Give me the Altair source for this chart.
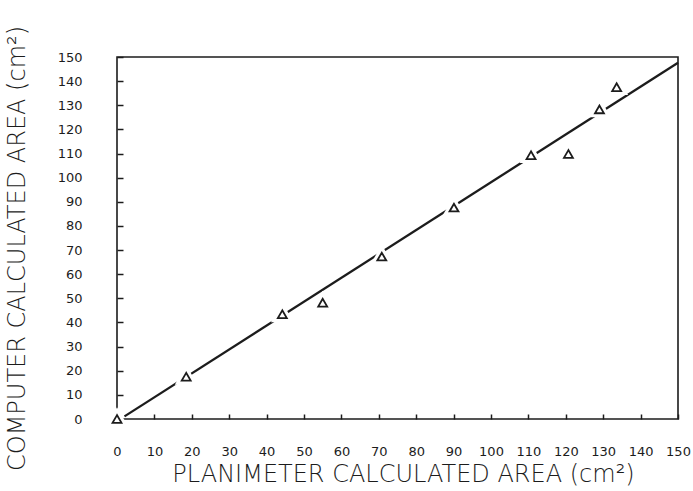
import altair as alt
import pandas as pd

# measured points (planimeter vs computer calculated area, cm^2)
planimeter = [0, 18.5, 44.2, 55.0, 70.8, 90.1, 110.7, 120.7, 129.0, 133.6]
computer = [0, 17.5, 43.4, 48.2, 67.3, 87.6, 109.3, 109.8, 128.3, 137.5]

# fitted line end points
line_x = [2, 150]
line_y = [1.1, 147.6]

tick_values = list(range(0, 151, 10))

pts = pd.DataFrame({"x": planimeter, "y": computer})
fit = pd.DataFrame({"x": line_x, "y": line_y})

FONT = "DejaVu Sans"
INK = "#1c1c1c"

xscale = alt.Scale(domain=[0, 150], nice=False, zero=False)
yscale = alt.Scale(domain=[0, 150], nice=False, zero=False)

xaxis = alt.Axis(
    values=tick_values, tickCount=16, domain=False, grid=False, offset=-5,
    tickSize=5, tickWidth=1.5, tickColor=INK, labelFont=FONT,
    labelFontSize=13, labelColor=INK, labelPadding=26, labelFlush=False,
    labelOverlap=False, labelBound=False,
    title="PLANIMETER CALCULATED AREA (cm²)", titleFont=FONT,
    titleFontSize=24, titleFontWeight=300, titleColor=INK,
    titleX=286, titleY=60, titleAlign="center", titleBaseline="middle",
)
yaxis = alt.Axis(
    values=tick_values, tickCount=16, domain=False, grid=False, offset=-6,
    tickSize=6, tickWidth=1.5, tickColor=INK, labelFont=FONT,
    labelFontSize=13, labelColor=INK, labelPadding=35, labelFlush=False,
    labelOverlap=False, labelBound=False,
    title="COMPUTER CALCULATED AREA (cm²)", titleFont=FONT,
    titleFontSize=24, titleFontWeight=300, titleColor=INK,
    titleX=-106, titleY=191, titleAngle=-90, titleAlign="center",
    titleBaseline="middle",
)

X = alt.X("x:Q", scale=xscale, axis=xaxis)
Y = alt.Y("y:Q", scale=yscale, axis=yaxis)

line = alt.Chart(fit).mark_line(color=INK, strokeWidth=2.3).encode(x=X, y=Y)

halo = alt.Chart(pts).mark_point(
    shape="triangle-up", size=80, filled=True, fill="white",
    stroke="white", strokeWidth=8, opacity=1,
).encode(x=X, y=Y)

tri = alt.Chart(pts).mark_point(
    shape="triangle-up", size=80, filled=False, stroke=INK,
    strokeWidth=1.8, opacity=1,
).encode(x=X, y=Y)

chart = (
    alt.layer(line, halo, tri)
    .properties(
        width=561, height=362,
        autosize=alt.AutoSizeParams(type="none"),
        padding={"left": 117, "top": 57, "right": 15, "bottom": 72},
        background="white",
    )
    .configure_view(stroke=INK, strokeWidth=1.6)
)

chart.save("out.html", embed_options={"renderer": "svg", "actions": False})
